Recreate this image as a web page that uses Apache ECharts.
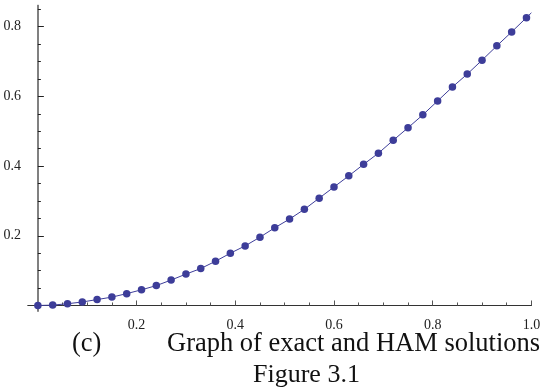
<!DOCTYPE html>
<html lang="en">
<head>
    <meta charset="UTF-8">
    <title>Figure 3.1</title>
    <style>
        body {
            margin: 0;
            background: #fff;
        }
        #chart {
            width: 546px;
            height: 390px;
        }
    </style>
</head>
<body>
    <div id="chart"></div>
    <script src="https://cdn.jsdelivr.net/npm/echarts@6/dist/echarts.min.js"></script>
    <script>
        // sample points (dots)
        const xs = [0, 0.03, 0.06, 0.09, 0.12, 0.15, 0.18, 0.21, 0.24, 0.27, 0.30, 0.33,
            0.36, 0.39, 0.42, 0.45, 0.48, 0.51, 0.54, 0.57, 0.60, 0.63, 0.66, 0.69,
            0.72, 0.75, 0.78, 0.81, 0.84, 0.87, 0.90, 0.93, 0.96, 0.99];
        const ys = [0, 0.001, 0.005, 0.010, 0.017, 0.024, 0.034, 0.045, 0.057, 0.073, 0.090, 0.106,
            0.127, 0.150, 0.171, 0.196, 0.223, 0.248, 0.276, 0.308, 0.340, 0.372, 0.405, 0.437,
            0.474, 0.510, 0.547, 0.587, 0.627, 0.664, 0.704, 0.745, 0.785, 0.826];
        // the curve runs on to x = 1
        const lineEndX = 1.0;
        const lineEndY = 0.840;

        const xMajor = [0.2, 0.4, 0.6, 0.8, 1.0];
        const xMinor = [0.05, 0.1, 0.15, 0.25, 0.3, 0.35, 0.45, 0.5, 0.55, 0.65, 0.7, 0.75, 0.85, 0.9, 0.95];
        const yMajor = [0.2, 0.4, 0.6, 0.8];
        const yMinor = [0.05, 0.1, 0.15, 0.25, 0.3, 0.35, 0.45, 0.5, 0.55, 0.65, 0.7, 0.75, 0.85];

        const serif = 'Liberation Serif';
        const col = '#3d3d99';

        const dots = xs.map((x, i) => [x, ys[i]]);
        const curve = dots.concat([[lineEndX, lineEndY]]);

        const xBase = {
            type: 'value',
            min: -0.02,
            max: 1.0,
            position: 'bottom',
            splitLine: { show: false },
            axisLine: { onZero: true, onZeroAxisIndex: 0, lineStyle: { color: '#333', width: 1 } },
        };
        const yBase = {
            type: 'value',
            min: -0.015,
            max: 0.86,
            position: 'left',
            splitLine: { show: false },
            axisLine: { onZero: true, onZeroAxisIndex: 0, lineStyle: { color: '#808080', width: 2 } },
        };

        const chart = echarts.init(document.getElementById('chart'));
        chart.setOption({
            animation: false,
            grid: { left: 28, right: 14.6, top: 5.8, bottom: 79.3 },
            xAxis: [
                Object.assign({}, xBase, {
                    axisTick: { inside: true, length: 5, customValues: xMajor, lineStyle: { color: '#555' } },
                    axisLabel: {
                        customValues: xMajor,
                        formatter: v => v.toFixed(1),
                        fontFamily: serif, fontSize: 14, color: '#222', margin: 8,
                    },
                }),
                Object.assign({}, xBase, {
                    axisTick: { inside: true, length: 3, customValues: xMinor, lineStyle: { color: '#555' } },
                    axisLabel: { show: false },
                }),
            ],
            yAxis: [
                Object.assign({}, yBase, {
                    axisTick: { inside: true, length: 6, customValues: yMajor, lineStyle: { color: '#222' } },
                    axisLabel: {
                        customValues: yMajor,
                        formatter: v => v.toFixed(1),
                        fontFamily: serif, fontSize: 14, color: '#222', margin: 7,
                    },
                }),
                Object.assign({}, yBase, {
                    axisTick: { inside: true, length: 3, customValues: yMinor, lineStyle: { color: '#222' } },
                    axisLabel: { show: false },
                }),
            ],
            series: [
                {
                    type: 'line',
                    data: curve,
                    showSymbol: false,
                    lineStyle: { color: col, width: 1 },
                    xAxisIndex: 0,
                    yAxisIndex: 0,
                },
                {
                    type: 'scatter',
                    data: dots,
                    symbolSize: 7.5,
                    itemStyle: { color: col, opacity: 1 },
                    xAxisIndex: 0,
                    yAxisIndex: 0,
                },
            ],
            graphic: [
                {
                    type: 'text', left: 72, top: 331,
                    style: { text: '(c)', font: '26.5px "Liberation Serif"', fill: '#111' },
                },
                {
                    type: 'text', left: 167, top: 331,
                    style: { text: 'Graph of exact and HAM solutions', font: '26.5px "Liberation Serif"', fill: '#111' },
                },
                {
                    type: 'text', left: 253, top: 362,
                    style: { text: 'Figure 3.1', font: '26px "Liberation Serif"', fill: '#111' },
                },
            ],
        });
    </script>
</body>
</html>
